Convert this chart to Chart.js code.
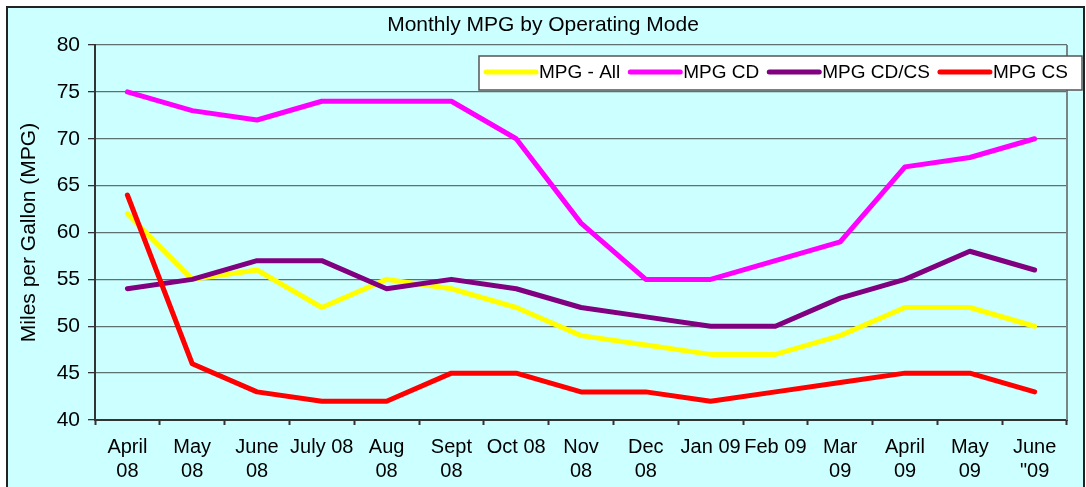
<!DOCTYPE html>
<html>
<head>
<meta charset="utf-8">
<script src="https://cdn.jsdelivr.net/npm/chart.js@4/dist/chart.umd.min.js"></script>
<style>
  html, body { margin: 0; padding: 0; background: #fff; }
  canvas { display: block; }
</style>
</head>
<body>
<canvas id="myChart" width="1086" height="487"></canvas>
<script>
// months (multi-line where the original wraps)
var months = [
    ["April", "08"], ["May", "08"], ["June", "08"], "July 08", ["Aug", "08"],
    ["Sept", "08"], "Oct 08", ["Nov", "08"], ["Dec", "08"], "Jan 09", "Feb 09",
    ["Mar", "09"], ["April", "09"], ["May", "09"], ["June", "\"09"]
];
var seriesNames = ["MPG - All", "MPG CD", "MPG CD/CS", "MPG CS"];
var mpgAll  = [62, 55, 56, 52, 55, 54, 52, 49, 48, 47, 47, 49, 52, 52, 50];
var mpgCD   = [75, 73, 72, 74, 74, 74, 70, 61, 55, 55, 57, 59, 67, 68, 70];
var mpgCDCS = [54, 55, 57, 57, 54, 55, 54, 52, 51, 50, 50, 53, 55, 58, 56];
var mpgCS   = [64, 46, 43, 42, 42, 45, 45, 43, 43, 42, 43, 44, 45, 45, 43];
var yTicks = [40, 45, 50, 55, 60, 65, 70, 75, 80];

var colors = ["#FFFF00", "#FF00FF", "#800080", "#FF0000"];
var font = "'Liberation Sans', Arial, sans-serif";

// background, outer frame and plot right edge
const frame = {
    id: "frame",
    beforeDraw(chart) {
        const ctx = chart.ctx;
        ctx.save();
        ctx.fillStyle = "#fff";
        ctx.fillRect(0, 0, chart.width, chart.height);
        ctx.fillStyle = "#CCFFFF";
        ctx.fillRect(7, 7, chart.width - 9, chart.height);
        ctx.strokeStyle = "#222";
        ctx.lineWidth = 2;
        ctx.strokeRect(7, 7, chart.width - 9, chart.height + 10);
        ctx.restore();
    },
    beforeDatasetsDraw(chart) {
        const ctx = chart.ctx, a = chart.chartArea;
        ctx.save();
        ctx.strokeStyle = "#7a8585";
        ctx.lineWidth = 2;
        ctx.beginPath();
        ctx.moveTo(a.right, a.top);
        ctx.lineTo(a.right, a.bottom);
        ctx.stroke();
        ctx.restore();
    }
};

// legend box drawn over the plot, like the Excel one
const boxLegend = {
    id: "boxLegend",
    afterDatasetsDraw(chart) {
        const ctx = chart.ctx;
        const left = 479, top = 56, right = 1082, bottom = 90;
        ctx.save();
        ctx.fillStyle = "#fff";
        ctx.fillRect(left, top, right - left, bottom - top);
        ctx.strokeStyle = "#555";
        ctx.lineWidth = 1.5;
        ctx.strokeRect(left, top, right - left, bottom - top);
        ctx.font = "19px " + font;
        ctx.textBaseline = "middle";
        ctx.fillStyle = "#000";
        let x = 486;
        const y = 72;
        chart.data.datasets.forEach(function (ds) {
            ctx.strokeStyle = ds.borderColor;
            ctx.lineWidth = 5;
            ctx.lineCap = "round";
            ctx.beginPath();
            ctx.moveTo(x, y);
            ctx.lineTo(x + 50, y);
            ctx.stroke();
            x += 53;
            ctx.fillText(ds.label, x, y + 1);
            x += ctx.measureText(ds.label).width + 10;
        });
        ctx.restore();
    }
};

const seriesData = [mpgAll, mpgCD, mpgCDCS, mpgCS];
const datasets = seriesNames.map(function (name, i) {
    return {
        label: name,
        data: seriesData[i],
        borderColor: colors[i],
        backgroundColor: colors[i],
        borderWidth: 5,
        pointRadius: 0,
        tension: 0,
        borderCapStyle: "round",
        borderJoinStyle: "round",
        order: 3 - i
    };
});

const config = {
    type: "line",
    data: { labels: months, datasets: datasets },
    plugins: [frame, boxLegend],
    options: {
        responsive: false,
        animation: false,
        devicePixelRatio: 1,
        layout: { padding: { left: 8, right: 8, top: 0, bottom: 0 } },
        plugins: {
            legend: { display: false },
            tooltip: { enabled: false },
            title: {
                display: true,
                text: "Monthly MPG by Operating Mode",
                color: "#000",
                font: { family: font, size: 21, weight: "normal", lineHeight: 1.2 },
                padding: { top: 12.4, bottom: 7.4 }
            }
        },
        scales: {
            x: {
                offset: true,
                grid: {
                    offset: true,
                    drawOnChartArea: false,
                    tickLength: 5,
                    tickColor: "#333",
                    tickWidth: 2
                },
                border: { color: "#333", width: 2 },
                ticks: {
                    color: "#000",
                    autoSkip: false,
                    maxRotation: 0,
                    padding: 10,
                    font: { family: font, size: 20, lineHeight: 1.2 }
                },
                afterFit: function (s) { s.height = 67; }
            },
            y: {
                min: 40,
                max: 80,
                afterBuildTicks: function (s) {
                    s.ticks = yTicks.map(function (v) { return { value: v }; });
                },
                grid: {
                    color: "#5f7070",
                    lineWidth: 1.3,
                    tickLength: 7,
                    tickColor: "#333"
                },
                border: { color: "#333", width: 2 },
                ticks: {
                    color: "#000",
                    padding: 8,
                    font: { family: font, size: 21 }
                },
                title: {
                    display: true,
                    text: "Miles per Gallon (MPG)",
                    color: "#000",
                    font: { family: font, size: 21, lineHeight: 1.2 },
                    padding: { top: 9, bottom: 0 }
                },
                afterFit: function (s) { s.width = 87; }
            },
            yRight: {
                position: "right",
                display: true,
                grid: { display: false },
                border: { display: false },
                ticks: { display: false },
                afterFit: function (s) { s.width = 11; }
            }
        }
    }
};

let myChart = new Chart(document.getElementById("myChart"), config);
</script>
</body>
</html>
